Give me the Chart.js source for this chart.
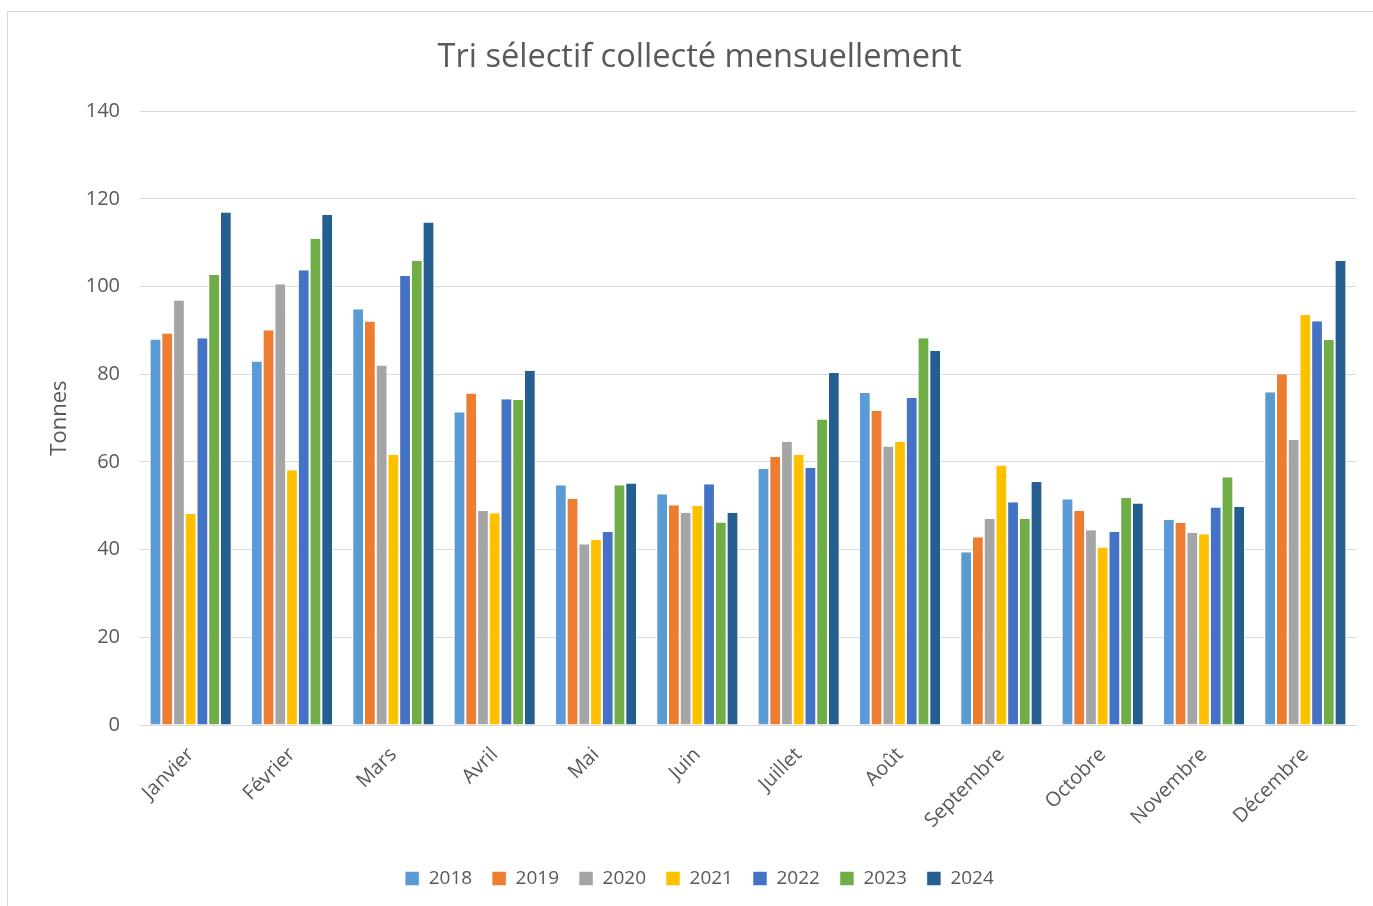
<!DOCTYPE html>
<html>
<head>
<meta charset="utf-8">
<script src="https://cdn.jsdelivr.net/npm/chart.js@4"></script>
<style>
  html, body { margin: 0; padding: 0; background: #fff; }
  #frame { position: absolute; left: 7px; top: 11px; width: 1370px; height: 900px; border: 1px solid #d9d9d9; }
  #wrap { position: absolute; left: 0; top: 0; width: 1373px; height: 906px; }
</style>
</head>
<body>
<div id="frame"></div>
<div id="wrap"><canvas id="chart" width="1373" height="906"></canvas></div>
<script>
// =========================
// DATA
// =========================
const months = ["Janvier", "Février", "Mars", "Avril", "Mai", "Juin", "Juillet", "Août", "Septembre", "Octobre", "Novembre", "Décembre"];
const years = ["2018", "2019", "2020", "2021", "2022", "2023", "2024"];

const v2018 = [87.9, 82.9, 94.8, 71.3, 54.7, 52.6, 58.4, 75.7, 39.4, 51.5, 46.8, 75.9];
const v2019 = [89.3, 90.0, 92.0, 75.6, 51.6, 50.1, 61.1, 71.6, 42.8, 48.8, 46.1, 80.0];
const v2020 = [96.8, 100.5, 82.0, 48.8, 41.2, 48.4, 64.6, 63.5, 47.0, 44.4, 43.8, 65.0];
const v2021 = [48.1, 58.1, 61.6, 48.3, 42.2, 50.0, 61.6, 64.6, 59.2, 40.5, 43.5, 93.5];
const v2022 = [88.2, 103.7, 102.4, 74.3, 44.0, 54.9, 58.6, 74.6, 50.8, 44.0, 49.6, 92.1];
const v2023 = [102.6, 110.9, 105.9, 74.1, 54.7, 46.2, 69.7, 88.2, 47.0, 51.8, 56.5, 87.8];
const v2024 = [116.9, 116.3, 114.6, 80.8, 55.1, 48.4, 80.3, 85.3, 55.4, 50.5, 49.7, 105.8];

const colors = ["#5B9BD5", "#ED7D31", "#A5A5A5", "#FFC000", "#4472C4", "#70AD47", "#255E91"];
const series = [v2018, v2019, v2020, v2021, v2022, v2023, v2024];

// =========================
// CHART
// =========================
const font = "'Open Sans', 'Liberation Sans', sans-serif";
const grey = "#595959";

new Chart(document.getElementById("chart"), {
    type: "bar",
    data: {
        labels: months,
        datasets: series.map((s, i) => ({
            label: years[i],
            data: s,
            backgroundColor: colors[i],
            borderColor: "#ffffff",
            borderWidth: { left: 1, right: 1, top: 0, bottom: 0 },
            categoryPercentage: 0.81,
            barPercentage: 1.0
        }))
    },
    options: {
        responsive: false,
        animation: false,
        layout: { padding: { left: 43, right: 17, top: 14, bottom: 8 } },
        plugins: {
            title: {
                display: true,
                text: "Tri sélectif collecté mensuellement",
                color: grey,
                font: { family: font, size: 32.6, weight: "normal" },
                padding: { top: 24, bottom: 34 }
            },
            legend: {
                position: "bottom",
                labels: {
                    color: grey,
                    font: { family: font, size: 19 },
                    boxWidth: 14,
                    boxHeight: 14,
                    padding: 20
                }
            },
            tooltip: { enabled: false }
        },
        scales: {
            x: {
                grid: { display: false },
                border: { color: "#d9d9d9" },
                ticks: {
                    color: grey,
                    font: { family: font, size: 20 },
                    minRotation: 45,
                    maxRotation: 45,
                    padding: 10
                },
                afterFit: s => { s.height = 124; }
            },
            y: {
                min: 0,
                max: 140,
                ticks: {
                    stepSize: 20,
                    color: grey,
                    font: { family: font, size: 20 },
                    padding: 20
                },
                grid: { color: "#d9d9d9", drawTicks: false },
                border: { display: false },
                title: {
                    display: true,
                    text: "Tonnes",
                    color: grey,
                    font: { family: font, size: 22 },
                    padding: { bottom: 4 }
                },
                afterFit: s => { s.width = 97; }
            }
        }
    }
});
</script>
</body>
</html>
